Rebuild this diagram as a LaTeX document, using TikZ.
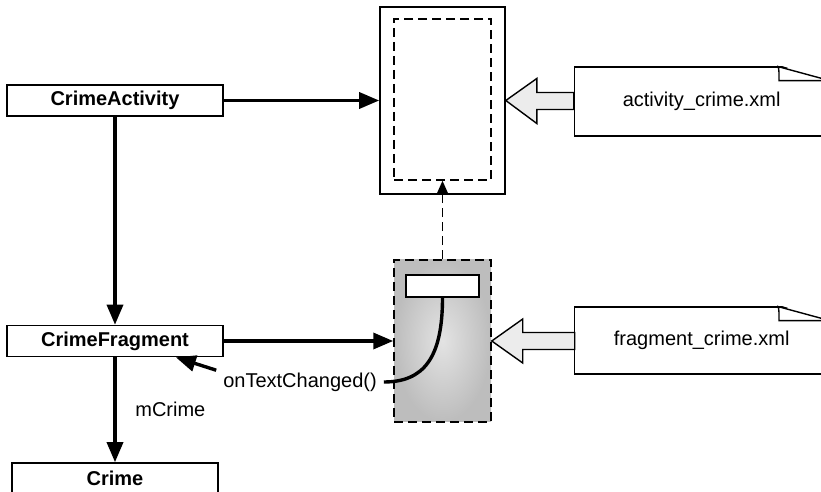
\documentclass[tikz,border=0pt]{standalone}
\usepackage{fontspec}
\setmainfont{Liberation Sans}
\usetikzlibrary{arrows.meta,positioning}

\tikzset{
  classbox/.style={draw, line width=0.8pt, font=\bfseries, minimum width=108pt, minimum height=15.5pt, inner sep=0pt},
  docbox/.style={draw, line width=0.7pt, minimum width=127pt, inner sep=0pt},
  link/.style={line width=1.7pt, -{Triangle[length=10pt,width=8pt]}},
  dashline/.style={line width=0.75pt, dash pattern=on 4.5pt off 2.5pt},
  fatarrow/.style={draw, line width=0.7pt, fill=gray!15, line join=miter}
}

% folded corner of a layout file
\newcommand{\foldcorner}[1]{%
  \fill[white] ([xshift=101.5pt,yshift=1pt]#1.north west) -- ++(30pt,0) -- ++(0,-9.5pt) -- cycle;
  \draw[line width=0.7pt] ([xshift=101.5pt]#1.north west) -- ++(28pt,-7.6pt);
  \draw[line width=0.7pt] ([xshift=101.5pt]#1.north west) .. controls +(0.8pt,0) and +(0,1.2pt) .. ++(1pt,-3pt) -- ++(0,-4.2pt) -- ++(30pt,0);
}

\begin{document}
\begin{tikzpicture}[x=0.5pt,y=-0.5pt]
\useasboundingbox (0,0) rectangle (821,492);
\clip (0,0) rectangle (821,492);

\node[classbox] (activity) at (115,100.5) {CrimeActivity};
\node[classbox] (fragment) at (115,341) {CrimeFragment};
\node[classbox, minimum width=103pt, minimum height=15pt] (crime) at (115,478) {Crime};

\node[draw, line width=0.8pt, minimum width=62.5pt, minimum height=93.5pt] (layout) at (442.5,100.5) {};
\node[draw, dashline, minimum width=48.5pt, minimum height=80.5pt] (frame) at (442.5,99.5) {};

\node[draw, dashline, shade, shading=radial, inner color=gray!22, outer color=gray!52, minimum width=48.5pt, minimum height=81pt] (fragview) at (442.5,341) {};
\node[draw, line width=0.8pt, fill=white, minimum width=36.5pt, minimum height=11pt, inner sep=0pt] (field) at (442.5,286) {};

\node[docbox, minimum height=34.5pt, anchor=west] (actxml) at (574,101.5) {activity\_crime.xml};
\node[docbox, minimum height=33.5pt, anchor=west] (fragxml) at (574,340.5) {fragment\_crime.xml};
\foldcorner{actxml}
\foldcorner{fragxml}

\node (changed) at (300,382) {onTextChanged()};

\draw[link] (activity) -- (layout);
\draw[link] (activity) -- (fragment);
\draw[link] (fragment) -- (fragview);
\draw[link] (fragment) -- node[right=6pt] {mCrime} (crime);
\draw[dashline, -{Triangle[length=7pt,width=6pt]}] (fragview) -- (frame);
\draw[link] (changed.172) -- (fragment.-15);
\draw[line width=1.7pt] (field.south) .. controls +(0,60) and +(40,0) .. (changed.east);

\draw[fatarrow] (layout.east) -- ++(31,-22) -- ++(0,14) -- ++(37,0) -- ++(0,17) -- ++(-37,0) -- ++(0,14) -- cycle;
\draw[fatarrow] (fragview.east) -- ++(31,-22) -- ++(0,13.5) -- ++(52,0) -- ++(0,17) -- ++(-52,0) -- ++(0,13.5) -- cycle;
\end{tikzpicture}
\end{document}
